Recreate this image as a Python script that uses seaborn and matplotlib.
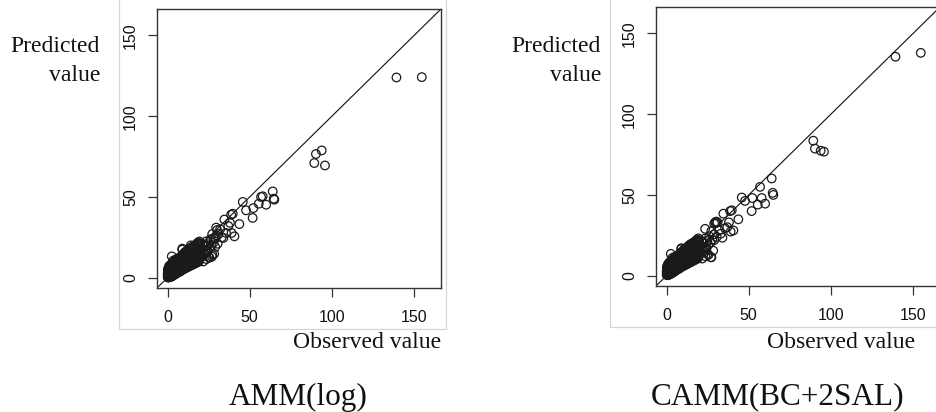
import matplotlib
matplotlib.use("Agg")
import matplotlib.pyplot as plt
from matplotlib.patches import Rectangle
import pandas as pd
import seaborn as sns

# Observed values (shared by both models)
observed = [
    # 0 - 3
    0.1, 0.2, 0.3, 0.4, 0.5, 0.6, 0.7, 0.8, 0.9, 1.0,
    1.1, 1.2, 1.3, 1.4, 1.5, 1.6, 1.7, 1.8, 1.9, 2.0,
    2.1, 2.2, 2.3, 2.4, 2.5, 2.6, 2.7, 2.8, 2.9, 3.0,
    0.2, 0.4, 0.6, 0.8, 1.0, 1.2, 1.4, 1.6, 1.8, 2.0,
    2.2, 2.4, 2.6, 2.8, 3.0, 0.3, 0.7, 1.1, 1.5, 1.9,
    2.3, 2.7, 0.5, 0.9, 1.3, 1.7, 2.1, 2.5, 2.9, 0.1,
    0.4, 0.8, 1.2, 1.6, 2.0, 2.4, 2.8, 0.6, 1.0, 1.4,
    1.8, 2.2, 2.6, 3.0, 0.3, 0.9, 1.5, 2.1, 2.7, 1.2,
    # 3 - 8
    3.2, 3.4, 3.6, 3.8, 4.0, 4.2, 4.4, 4.6, 4.8, 5.0,
    5.2, 5.4, 5.6, 5.8, 6.0, 6.2, 6.4, 6.6, 6.8, 7.0,
    7.2, 7.4, 7.6, 7.8, 8.0, 3.3, 3.7, 4.1, 4.5, 4.9,
    5.3, 5.7, 6.1, 6.5, 6.9, 7.3, 7.7, 3.5, 3.9, 4.3,
    4.7, 5.1, 5.5, 5.9, 6.3, 6.7, 7.1, 7.5, 7.9, 2.6,
    4.0, 5.0, 6.0, 7.0, 8.0, 3.6, 4.8, 5.6, 6.6, 7.6,
    # 8 - 15
    8.3, 8.6, 8.9, 9.2, 9.5, 9.8, 10.1, 10.4, 10.7, 11.0,
    11.3, 11.6, 11.9, 12.2, 12.5, 12.8, 13.1, 13.4, 13.7, 14.0,
    14.3, 14.6, 14.9, 8.5, 9.0, 9.6, 10.2, 10.8, 11.4, 12.0,
    12.6, 13.2, 13.8, 14.4, 9.0, 8.9, 10.5, 12.3, 13.6, 14.2,
    # 15 - 30
    15.3, 15.8, 16.2, 16.7, 17.1, 17.6, 18.0, 18.5, 19.0, 19.5,
    20.0, 20.6, 21.2, 21.8, 22.4, 23.0, 23.6, 24.2, 24.8, 25.4,
    26.0, 26.6, 27.2, 27.8, 28.4, 29.0, 29.6, 30.2, 16.0, 18.8,
    21.0, 23.5, 25.0, 27.0, 29.0,
    # 0 - 20, second batch
    0.2, 0.6, 1.0, 1.4, 1.8, 2.2, 2.6, 3.0, 3.4, 3.8,
    4.2, 4.6, 5.0, 5.4, 5.8, 6.2, 6.6, 7.0, 7.4, 7.8,
    8.2, 8.6, 9.0, 9.4, 9.8, 10.2, 10.6, 11.0, 11.4, 11.8,
    12.2, 12.6, 13.0, 13.4, 13.8, 14.2, 14.6, 15.0, 15.4, 15.8,
    16.2, 16.6, 17.0, 17.4, 17.8, 18.2, 18.6, 19.0, 19.4, 19.8,
    0.4, 0.8, 1.2, 1.6, 2.0, 2.4, 2.8, 3.2, 3.6, 4.0,
    4.4, 4.8, 5.2, 5.6, 6.0, 6.4, 6.8, 7.2, 7.6, 8.0,
    8.4, 8.8, 9.2, 9.6, 10.0, 10.4, 10.8, 11.2, 11.6, 12.0,
    12.4, 12.8, 13.2, 13.6, 14.0, 14.4, 14.8, 15.2, 15.6, 16.0,
    1.0, 2.0, 3.0, 4.0, 5.0, 6.0, 7.0, 8.0, 9.0, 10.0,
    11.0, 12.0, 13.0, 14.0, 15.0, 16.0, 17.0, 18.0, 19.0, 20.0,
    0.5, 1.5, 2.5, 3.5, 4.5, 5.5, 6.5, 7.5, 8.5, 9.5,
    # 5 - 27, under-predicted batch
    5.0, 5.5, 6.0, 6.5, 7.0, 7.5, 8.0, 8.5, 9.0, 9.5,
    10.0, 10.5, 11.0, 11.5, 12.0, 12.5, 13.0, 13.5, 14.0, 14.5,
    15.0, 15.5, 16.0, 16.5, 17.0, 17.5, 18.0, 18.5, 19.0, 19.5,
    5.3, 6.3, 7.3, 8.3, 9.3, 10.3, 11.3, 12.3, 13.3, 14.3,
    15.3, 16.3, 17.3, 18.3, 19.3, 20.3, 21.3, 22.3, 23.3, 24.3,
    9.7, 11.7, 13.7, 15.7, 17.7, 19.7, 21.7, 23.7, 25.5, 27.3,
    # 30 - 65
    34.6, 37.0, 38.7, 39.7, 38.0, 35.6, 34.0, 39.0, 40.7, 43.7,
    45.8, 47.8, 52.2, 51.8, 55.5, 56.9, 57.9, 60.0, 64.0, 64.6,
    65.0, 30.0, 31.0, 32.0, 33.0, 29.0, 30.5,
    # large values
    90.3, 89.3, 93.8, 95.8, 139.3, 154.7,
]

# Predictions of AMM(log)
pred_amm = [
    0.3, 1.2, 0.5, 2.0, 0.8, 1.5, 0.4, 2.6, 1.1, 0.7,
    1.9, 3.1, 0.9, 2.2, 1.4, 3.5, 0.6, 2.8, 1.7, 4.0,
    1.0, 2.5, 3.8, 1.6, 4.4, 2.1, 0.8, 3.3, 1.9, 4.8,
    2.4, 0.2, 3.0, 1.3, 2.9, 0.5, 3.9, 1.8, 5.2, 2.7,
    0.9, 4.1, 1.5, 5.6, 2.2, 3.6, 2.4, 4.5, 0.7, 3.2,
    5.0, 1.2, 1.9, 3.4, 0.4, 4.7, 2.6, 5.8, 3.1, 2.3,
    4.2, 1.4, 5.4, 2.9, 6.1, 3.7, 1.1, 0.9, 4.9, 2.8,
    6.4, 3.5, 1.3, 2.2, 5.1, 4.3, 2.0, 6.8, 3.4, 7.0,
    2.1, 5.0, 1.8, 6.2, 3.0, 4.4, 8.1, 2.5, 5.7, 3.6,
    7.0, 2.9, 4.8, 9.2, 3.4, 6.3, 4.0, 7.8, 3.9, 5.5,
    8.6, 4.2, 6.9, 3.8, 7.3, 4.0, 3.1, 6.6, 9.9, 2.8,
    5.9, 4.6, 8.0, 5.2, 6.1, 9.4, 4.8, 10.5, 2.4, 7.2,
    3.7, 9.0, 6.4, 5.1, 10.8, 4.4, 6.8, 7.6, 5.6, 13.2,
    9.0, 6.0, 7.7, 4.9, 6.3, 8.5, 11.2, 3.9, 9.8, 6.7,
    6.2, 9.8, 4.9, 11.3, 7.4, 8.0, 12.5, 5.6, 9.1, 10.8,
    6.9, 13.0, 8.7, 10.2, 14.1, 7.8, 11.6, 9.4, 15.0, 10.9,
    12.2, 8.3, 13.7, 7.0, 18.0, 6.3, 9.3, 16.0, 8.8, 11.5,
    10.0, 12.8, 9.9, 14.6, 17.3, 5.5, 7.2, 15.6, 12.0, 20.0,
    12.3, 15.1, 10.4, 14.0, 16.6, 11.9, 17.8, 13.5, 12.6, 16.9,
    18.5, 14.2, 21.0, 15.6, 19.2, 17.0, 22.5, 16.4, 20.7, 18.3,
    23.8, 19.6, 27.0, 21.5, 14.8, 25.0, 31.0, 29.5, 9.8, 10.6,
    13.0, 20.0, 12.7, 13.0, 19.0,
    4.5, 6.0, 7.2, 5.8, 8.0, 6.9, 8.5, 7.6, 9.0, 8.3,
    9.8, 8.9, 10.5, 9.6, 11.2, 10.4, 12.0, 11.0, 12.6, 11.8,
    13.0, 12.2, 14.0, 13.1, 14.8, 13.8, 15.5, 14.6, 16.2, 15.4,
    16.8, 16.0, 17.5, 16.5, 18.2, 17.2, 18.8, 17.8, 19.4, 18.4,
    19.6, 18.9, 20.3, 19.5, 21.0, 20.1, 21.8, 20.7, 22.4, 21.2,
    0.2, 0.1, 0.5, 0.4, 0.9, 0.8, 1.3, 1.2, 1.8, 1.7,
    2.4, 2.1, 3.0, 2.8, 3.6, 3.3, 4.3, 3.9, 4.9, 4.6,
    5.5, 5.1, 6.2, 5.8, 6.9, 6.5, 7.6, 7.2, 8.3, 7.9,
    9.0, 8.6, 9.7, 9.3, 10.4, 10.0, 11.1, 10.7, 11.8, 11.4,
    2.7, 3.1, 4.4, 4.6, 6.0, 6.2, 7.6, 7.8, 9.2, 9.4,
    10.1, 11.5, 11.7, 13.1, 13.3, 14.8, 14.9, 16.3, 16.5, 18.0,
    3.2, 3.8, 5.3, 5.8, 7.2, 7.7, 9.1, 9.5, 11.0, 11.3,
    2.6, 3.4, 3.1, 4.2, 3.8, 4.9, 4.3, 5.6, 4.9, 6.2,
    5.4, 6.9, 5.9, 7.5, 6.4, 8.2, 6.9, 8.8, 7.4, 9.5,
    7.9, 10.1, 8.4, 10.8, 8.9, 11.4, 9.4, 12.1, 9.9, 12.7,
    3.9, 4.8, 5.2, 6.3, 6.7, 7.9, 8.1, 9.4, 9.6, 10.9,
    11.0, 12.4, 12.6, 14.0, 14.1, 15.4, 13.6, 14.9, 15.2, 16.6,
    5.8, 7.0, 8.2, 9.4, 10.6, 11.8, 10.0, 11.5, 12.4, 14.2,
    36.0, 32.0, 39.0, 39.6, 34.0, 27.7, 24.6, 27.7, 25.6, 33.2,
    46.9, 41.7, 43.1, 37.0, 45.8, 50.0, 50.4, 45.2, 53.4, 48.9,
    48.3, 26.0, 27.0, 30.0, 25.0, 24.0, 21.0,
    76.6, 71.0, 78.8, 69.5, 124.0, 124.2,
]

# Predictions of CAMM(BC+2SAL)
pred_camm = [
    0.6, 0.9, 0.8, 2.4, 1.0, 1.8, 0.5, 2.9, 1.5, 0.8,
    2.3, 3.2, 1.3, 2.6, 1.6, 3.9, 0.9, 3.0, 2.1, 4.4,
    1.2, 2.9, 4.0, 2.0, 4.9, 2.3, 1.2, 3.7, 2.0, 5.3,
    2.8, 0.4, 3.3, 1.7, 3.1, 0.8, 4.3, 2.2, 5.5, 3.1,
    1.3, 4.6, 1.7, 6.0, 2.6, 3.9, 2.7, 4.9, 1.0, 3.6,
    5.4, 1.6, 2.3, 3.8, 0.7, 5.1, 2.8, 6.2, 3.5, 2.6,
    4.6, 1.8, 5.8, 3.3, 6.5, 4.1, 1.4, 1.3, 5.3, 3.2,
    6.8, 3.9, 1.7, 2.5, 5.5, 4.7, 2.4, 7.2, 3.8, 7.5,
    2.6, 5.4, 2.3, 6.6, 3.5, 4.9, 8.6, 3.0, 6.1, 4.2,
    7.4, 3.4, 5.3, 9.6, 3.9, 6.8, 4.6, 8.2, 4.5, 6.0,
    9.0, 4.8, 7.3, 4.4, 7.9, 4.5, 3.6, 7.0, 10.3, 3.3,
    6.4, 5.1, 8.5, 5.8, 6.6, 9.9, 5.3, 10.9, 2.9, 7.7,
    4.2, 9.4, 6.9, 5.7, 11.2, 4.9, 7.3, 8.0, 6.1, 13.5,
    9.4, 6.5, 8.2, 5.4, 6.9, 9.0, 11.6, 4.4, 10.3, 7.2,
    6.8, 10.2, 5.5, 11.8, 7.9, 8.6, 13.0, 6.2, 9.6, 11.3,
    7.5, 13.4, 9.2, 10.8, 14.6, 8.4, 12.1, 10.0, 15.5, 11.5,
    12.8, 8.9, 14.2, 7.6, 17.0, 6.9, 9.9, 16.4, 9.4, 12.1,
    10.6, 13.4, 10.5, 15.2, 16.5, 6.1, 7.8, 16.0, 12.7, 19.0,
    13.0, 15.8, 11.1, 14.7, 17.2, 12.6, 18.4, 14.2, 13.3, 17.6,
    19.2, 14.9, 21.6, 16.3, 19.9, 17.7, 23.1, 17.1, 21.4, 19.0,
    24.4, 20.3, 27.5, 22.2, 15.5, 25.6, 33.0, 33.5, 10.5, 11.3,
    13.8, 29.0, 13.5, 11.4, 22.0,
    4.8, 6.3, 7.0, 6.1, 8.3, 7.2, 8.2, 7.9, 9.4, 8.6,
    10.1, 9.3, 10.8, 10.0, 11.6, 10.8, 12.3, 11.4, 13.0, 12.2,
    13.4, 12.6, 14.4, 13.5, 15.2, 14.2, 15.9, 15.1, 16.7, 15.9,
    17.3, 16.5, 18.0, 17.0, 18.7, 17.8, 19.4, 18.4, 20.0, 19.0,
    20.2, 19.5, 20.9, 20.1, 21.6, 20.8, 22.4, 21.4, 23.1, 21.9,
    0.4, 0.3, 0.8, 0.6, 1.2, 1.1, 1.6, 1.5, 2.1, 2.0,
    2.8, 2.5, 3.4, 3.2, 4.0, 3.7, 4.7, 4.3, 5.3, 5.0,
    5.9, 5.6, 6.7, 6.3, 7.4, 7.0, 8.1, 7.7, 8.8, 8.4,
    9.5, 9.1, 10.2, 9.8, 10.9, 10.6, 11.7, 11.3, 12.4, 12.0,
    3.0, 3.5, 4.8, 5.0, 6.4, 6.6, 8.0, 8.2, 9.6, 9.9,
    10.6, 12.0, 12.2, 13.6, 13.8, 15.3, 15.5, 16.8, 17.1, 18.6,
    3.6, 4.1, 5.6, 6.2, 7.6, 8.1, 9.5, 9.9, 11.4, 11.8,
    3.0, 3.8, 3.5, 4.6, 4.2, 5.3, 4.8, 6.0, 5.4, 6.7,
    5.9, 7.3, 6.4, 8.0, 6.9, 8.7, 7.4, 9.3, 8.0, 10.0,
    8.5, 10.6, 9.0, 11.3, 9.6, 12.0, 10.1, 12.6, 10.7, 13.3,
    4.3, 5.2, 5.7, 6.8, 7.1, 8.4, 8.6, 9.9, 10.1, 11.4,
    11.5, 12.9, 13.1, 14.5, 14.7, 15.9, 14.2, 15.4, 15.9, 17.1,
    6.3, 7.5, 8.8, 9.9, 11.2, 12.3, 10.6, 12.0, 12.9, 11.4,
    38.4, 30.0, 40.0, 40.5, 33.0, 29.4, 23.5, 27.3, 28.0, 34.9,
    48.4, 46.3, 48.1, 40.0, 44.0, 55.0, 48.1, 44.6, 60.2, 51.3,
    50.0, 32.6, 33.0, 28.0, 26.0, 32.2, 24.0,
    78.7, 83.6, 77.4, 76.8, 135.6, 138.0,
]

tick_values = [0, 50, 100, 150]
panel_titles = ["AMM(log)", "CAMM(BC+2SAL)"]
x_label = "Observed value"
y_label_lines = ["Predicted", "value"]

sns.set_theme(style="white")
plt.rcParams["font.family"] = ["Liberation Sans", "DejaVu Sans"]

W, H = 936, 412
fig = plt.figure(figsize=(W / 100, H / 100), dpi=100)
fig.patch.set_facecolor("white")


def fx(px):
    return px / W


def fy(py):
    return 1 - py / H


def add_panel(left, top, right, bottom):
    return fig.add_axes([fx(left), fy(bottom), (right - left) / W, (bottom - top) / H])


df = pd.DataFrame({"observed": observed, "amm": pred_amm, "camm": pred_camm})

panels = [
    # axes box, grey frame, label anchors (pixels)
    dict(col="amm", box=(157, 9, 441, 288), frame=(119, -3, 446, 329),
         ylab_x=100, xlab_x=441, title_x=298.5),
    dict(col="camm", box=(656, 7, 940, 286), frame=(610, -3, 945, 327),
         ylab_x=601, xlab_x=915, title_x=778),
]

serif = ["Liberation Serif", "DejaVu Serif"]
lim = (-6.4, 166.4)
ink = "#1a1a1a"

for p, title in zip(panels, panel_titles):
    fl, ft, fr, fb = p["frame"]
    fig.add_artist(Rectangle((fx(fl), fy(fb)), (fr - fl) / W, (fb - ft) / H,
                             transform=fig.transFigure, fill=False,
                             edgecolor="#d6d6d6", linewidth=0.9))

    ax = add_panel(*p["box"])
    ax.set_facecolor("white")
    sns.scatterplot(data=df, x="observed", y=p["col"], ax=ax, marker="o", s=38,
                    facecolor="none", edgecolor=ink, linewidth=0.9,
                    legend=False)
    ax.axline((0, 0), slope=1, color=ink, linewidth=0.85)
    ax.set_xlim(lim)
    ax.set_ylim(lim)
    ax.set_xticks(tick_values)
    ax.set_yticks(tick_values)
    ax.set_xlabel("")
    ax.set_ylabel("")
    for sp in ax.spines.values():
        sp.set_visible(True)
        sp.set_color("#333333")
        sp.set_linewidth(1.0)
    ax.tick_params(axis="both", which="major", direction="out", length=6.2,
                   width=0.9, color="#333333", labelsize=11.5, labelcolor="#111111",
                   bottom=True, left=True)
    ax.tick_params(axis="x", pad=9.5)
    ax.tick_params(axis="y", pad=7.5)
    for lbl in ax.get_yticklabels():
        lbl.set_rotation(90)
        lbl.set_va("center")

    fig.text(fx(p["ylab_x"]), fy(52.5), y_label_lines[0], ha="right", va="baseline",
             family=serif, fontsize=17, color="#111111")
    fig.text(fx(p["ylab_x"]), fy(81), y_label_lines[1], ha="right", va="baseline",
             family=serif, fontsize=17, color="#111111")
    fig.text(fx(p["xlab_x"]), fy(348), x_label, ha="right", va="baseline",
             family=serif, fontsize=17, color="#111111")
    fig.text(fx(p["title_x"]), fy(404.5), title, ha="center", va="baseline",
             family=serif, fontsize=22.5, color="#111111")

fig.savefig("out.png", dpi=100, facecolor="white")
